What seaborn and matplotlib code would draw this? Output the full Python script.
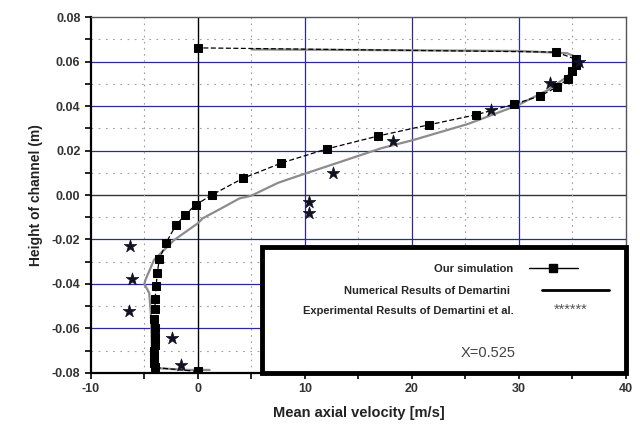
import pandas as pd
import matplotlib.pyplot as plt
import seaborn as sns
from matplotlib.ticker import MultipleLocator, FormatStrFormatter
from matplotlib.patches import Rectangle

# Our simulation (traversed bottom -> top, then back to the top-left point)
sim_u = [0.0, -4.05, -4.1, -4.1, -4.1, -4.0, -4.0, -4.0, -4.1, -4.0, -4.0,
         -3.9, -3.8, -3.6, -2.96, -2.06, -1.2, -0.2, 1.3, 4.2, 7.8, 12.1,
         16.8, 21.6, 26.0, 29.5, 32.0, 33.6, 34.55, 35.0, 35.3, 35.35, 33.5, 0.0]
sim_h = [-0.0794, -0.0776, -0.0754, -0.0727, -0.0704, -0.0674, -0.0640,
         -0.0599, -0.0559, -0.0514, -0.0470, -0.0410, -0.0352, -0.0288,
         -0.0214, -0.0136, -0.0090, -0.0044, 0.0000, 0.0075, 0.0144, 0.0208,
         0.0265, 0.0316, 0.0361, 0.0408, 0.0446, 0.0487, 0.0521, 0.0557,
         0.0584, 0.0610, 0.0643, 0.0662]

# Numerical results of Demartini
num_u = [1.1, -1.0, -3.5, -4.2, -4.3, -4.4, -4.55, -5.0, -4.9, -4.1, -2.2,
         0.0, 0.44, 2.0, 3.9, 4.95, 7.5, 10.25, 14.0, 17.1, 20.1, 25.2,
         29.9, 32.7, 34.5, 35.5, 35.6, 34.5, 30.0, 17.0, 5.0]
num_h = [-0.0787, -0.0787, -0.0780, -0.0757, -0.0680, -0.0530, -0.0441,
         -0.0400, -0.0382, -0.0292, -0.0202, -0.0127, -0.0105, -0.0065,
         -0.0015, -0.0004, 0.0055, 0.0100, 0.0160, 0.0210, 0.0247, 0.0319,
         0.0404, 0.0472, 0.0532, 0.0592, 0.0615, 0.0638, 0.0648, 0.0652,
         0.0655]

# Experimental results of Demartini et al.
exp_u = [-1.6, -2.4, -6.4, -6.2, -6.3, 10.4, 10.4, 12.6, 18.2, 27.4, 32.9, 35.6]
exp_h = [-0.0764, -0.0644, -0.0524, -0.0379, -0.0229, -0.0082, -0.0033,
         0.0097, 0.0244, 0.0382, 0.0502, 0.0600]

legend_labels = ["Our simulation", "Numerical Results of Demartini",
                 "Experimental Results of Demartini et al."]

sim = pd.DataFrame({"u": sim_u, "h": sim_h})
num = pd.DataFrame({"u": num_u, "h": num_h})
exp = pd.DataFrame({"u": exp_u, "h": exp_h})

sns.set_style("white")
plt.rcParams["font.family"] = ["Liberation Sans", "DejaVu Sans"]
plt.rcParams["axes.unicode_minus"] = False

fig = plt.figure(figsize=(6.4, 4.3), dpi=100)
ax = fig.add_axes([0.142, 0.133, 0.836, 0.827])

ax.set_xlim(-10, 40)
ax.set_ylim(-0.08, 0.08)

# grid: blue majors, black zero lines, dotted minors
for xv in [10, 20, 30]:
    ax.axvline(xv, color="#2a2a9a", lw=0.9, zorder=1)
for yv in [-0.06, -0.04, -0.02, 0.02, 0.04, 0.06]:
    ax.axhline(yv, color="#2a2a9a", lw=0.9, zorder=1)
ax.axvline(0, color="black", lw=1.0, zorder=1)
ax.axhline(0, color="#333333", lw=1.0, zorder=1)
for xv in [-5, 5, 15, 25, 35]:
    ax.axvline(xv, color="#9a9ab0", lw=0.8, ls=(0, (1.5, 4)), zorder=1)
for yv in [-0.07, -0.05, -0.03, -0.01, 0.01, 0.03, 0.05, 0.07]:
    ax.axhline(yv, color="#9a9ab0", lw=0.8, ls=(0, (1.5, 5)), zorder=1)

sns.lineplot(data=num, x="u", y="h", sort=False, estimator=None, ax=ax,
             color="#8c8c8c", lw=1.6, zorder=3)
sns.lineplot(data=sim, x="u", y="h", sort=False, estimator=None, ax=ax,
             color="black", lw=0.9, ls=(0, (4, 2)), marker="s", markersize=5.5,
             markeredgecolor="black", zorder=4)
sns.scatterplot(data=exp, x="u", y="h", ax=ax, marker="*", s=90,
                color="#111122", edgecolor="#111122", linewidth=0.5, zorder=5)

# legend box drawn by hand
to_ax = ax.transAxes
ax.add_patch(Rectangle((0.319, 0.0), 0.681, 0.354, transform=to_ax,
                       facecolor="white", edgecolor="black", lw=3.5,
                       zorder=6, clip_on=False))
ax.text(0.715, 0.292, legend_labels[0], transform=to_ax, ha="center",
        va="center", fontsize=8, fontweight="bold", zorder=7)
ax.text(0.628, 0.230, legend_labels[1], transform=to_ax, ha="center",
        va="center", fontsize=8, fontweight="bold", zorder=7)
ax.text(0.594, 0.174, legend_labels[2], transform=to_ax, ha="center",
        va="center", fontsize=8, fontweight="bold", zorder=7)
ax.plot([0.819, 0.910], [0.295, 0.295], transform=to_ax, color="black",
        lw=1.0, zorder=7)
ax.plot([0.864], [0.295], transform=to_ax, marker="s", markersize=6,
        color="black", zorder=7)
ax.plot([0.843, 0.968], [0.233, 0.233], transform=to_ax, color="black",
        lw=2.0, zorder=7)
ax.text(0.896, 0.178, "******", transform=to_ax, ha="center", va="center",
        fontsize=10.5, color="#555555", zorder=7)
ax.text(0.742, 0.056, "X=0.525", transform=to_ax, ha="center", va="center",
        fontsize=10.5, color="#444444", zorder=7)

# axes styling
ax.xaxis.set_major_locator(MultipleLocator(10))
ax.xaxis.set_minor_locator(MultipleLocator(5))
ax.yaxis.set_major_locator(MultipleLocator(0.02))
ax.yaxis.set_minor_locator(MultipleLocator(0.01))
ax.yaxis.set_major_formatter(FormatStrFormatter("%.2f"))
ax.tick_params(which="both", direction="out", length=4, width=1.2,
               color="black", labelsize=9, labelcolor="#333333")
ax.tick_params(axis="both", which="both", bottom=True, left=True)
for lab in ax.get_xticklabels() + ax.get_yticklabels():
    lab.set_fontweight("bold")

for side in ["left", "bottom"]:
    ax.spines[side].set_color("black")
    ax.spines[side].set_linewidth(1.6)
for side in ["top", "right"]:
    ax.spines[side].set_color("#555555")
    ax.spines[side].set_linewidth(1.0)

ax.set_xlabel("Mean axial velocity [m/s]", fontsize=10.5, fontweight="bold",
              color="#222222", labelpad=8)
ax.set_ylabel("Height of channel (m)", fontsize=10, fontweight="bold",
              color="#222222", labelpad=6)

fig.savefig("out.png", dpi=100, facecolor="white")
